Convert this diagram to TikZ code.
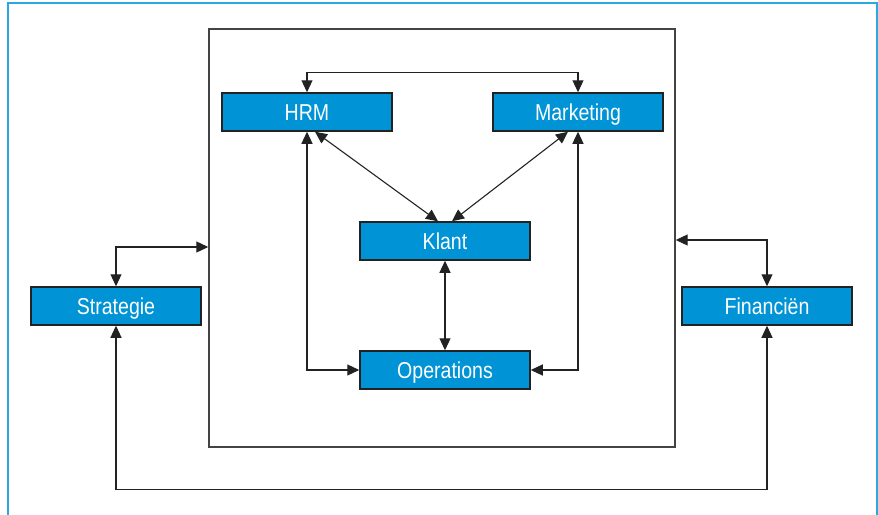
\documentclass[tikz,border=0pt]{standalone}
\usepackage{fontspec}
\setmainfont{Liberation Sans}[FakeStretch=0.85]
\usetikzlibrary{arrows.meta}
\definecolor{boxblue}{HTML}{0093D6}
\definecolor{framebluE}{HTML}{2AA8E0}
\definecolor{edge}{HTML}{222222}
\tikzset{
  unit/.style={draw=edge, line width=1.5pt, fill=boxblue, text=white,
    minimum width=170pt, minimum height=38pt, inner sep=0pt,
    text height=16pt, text depth=0pt,
    font=\fontsize{23}{26}\selectfont},
  link/.style={draw=edge, line width=1.1pt,
    {Triangle[length=12pt,width=11pt]}-{Triangle[length=12pt,width=11pt]}},
}
\begin{document}
\begin{tikzpicture}[x=1pt, y=-1pt]
  \useasboundingbox (0,0) rectangle (878,514);
  % light blue outer frame, open at the bottom
  \draw[framebluE, line width=2pt] (8,530) -- (8,3) -- (877,3) -- (877,530);
  % inner enclosure
  \node[draw=edge!85, line width=1.4pt, minimum width=466pt, minimum height=418pt,
        inner sep=0pt] (frame) at (442,238) {};
  % units
  \node[unit] (hrm)   at (307,112) {HRM};
  \node[unit] (mkt)   at (578,112) {Marketing};
  \node[unit] (klant) at (445,241) {Klant};
  \node[unit] (ops)   at (445,370) {Operations};
  \node[unit] (strat) at (116,306) {Strategie};
  \node[unit] (fin)   at (767,306) {Financiën};
  % connectors
  \draw[link] (hrm.north) -- ++(0,-20) -| (mkt.north);
  \draw[link] ([xshift=8pt]hrm.south) -- ([xshift=-7pt]klant.north);
  \draw[link] ([xshift=-10pt]mkt.south) -- ([xshift=7pt]klant.north);
  \draw[link] (hrm.south) |- (ops.west);
  \draw[link] (mkt.south) |- (ops.east);
  \draw[link] (klant.south) -- (ops.north);
  \draw[link] (strat.north) |- ([yshift=-9pt]frame.west);
  \draw[link] (fin.north) |- ([yshift=-2pt]frame.east);
  \draw[link] (strat.south) -- ++(0,164) -| (fin.south);
\end{tikzpicture}
\end{document}
